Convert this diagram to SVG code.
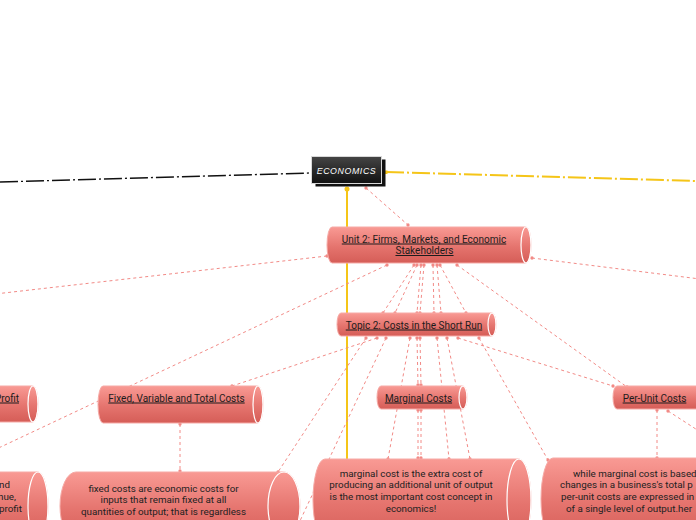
<svg xmlns="http://www.w3.org/2000/svg" width="696" height="520" viewBox="0 0 696 520">
<defs>
<linearGradient id="cyl" x1="0" y1="0" x2="0" y2="1">
<stop offset="0" stop-color="#f99a94"/>
<stop offset="0.55" stop-color="#e5746e"/>
<stop offset="1" stop-color="#d55d57"/>
</linearGradient>
<linearGradient id="dark" x1="0" y1="0" x2="0" y2="1">
<stop offset="0" stop-color="#454545"/>
<stop offset="1" stop-color="#111111"/>
</linearGradient>
<marker id="dot" viewBox="0 0 6 6" refX="3" refY="3" markerWidth="4" markerHeight="4" markerUnits="userSpaceOnUse">
<circle cx="3" cy="3" r="2.5" fill="#f28a86"/>
</marker>
<marker id="ydot" viewBox="0 0 6 6" refX="3" refY="3" markerWidth="6" markerHeight="6" markerUnits="userSpaceOnUse">
<circle cx="3" cy="3" r="2.5" fill="#f5c518"/>
</marker>
</defs>
<style>
.c{fill:none;stroke:#f28a86;stroke-width:1;stroke-dasharray:3,3;marker-start:url(#dot);marker-end:url(#dot)}
.body{fill:url(#cyl);stroke:#f6aaa6;stroke-width:1}
.cap{fill:none;stroke:#ffffff;stroke-width:1.2}
.t{font-family:Roboto,"Liberation Sans",sans-serif;font-size:10px;fill:#1c1c1c;text-anchor:middle;text-decoration:underline}
.b{font-family:Roboto,"Liberation Sans",sans-serif;font-size:9.8px;fill:#222;text-anchor:middle}
</style>

<g id="connectors">
<line x1="0" y1="182" x2="310" y2="173" stroke="#111" stroke-width="1.4" stroke-dasharray="18,3,2,3"/>
<line x1="386" y1="172" x2="696" y2="181" stroke="#f5c518" stroke-width="2" stroke-dasharray="18,3,2,3"/>
<rect x="384" y="170.5" width="3.5" height="3.5" fill="#f5c518"/>
<line x1="347" y1="189" x2="347" y2="530" stroke="#f5c518" stroke-width="2" marker-start="url(#ydot)"/>
<line class="c" x1="366" y1="188" x2="408" y2="225"/>
<line class="c" x1="327" y1="256" x2="-5" y2="294"/>
<line class="c" x1="532" y1="258" x2="700" y2="279"/>
<line class="c" x1="387" y1="265" x2="-10" y2="452"/>
<line class="c" x1="414" y1="265" x2="383" y2="313"/>
<line class="c" x1="417" y1="265" x2="395" y2="313"/>
<line class="c" x1="421" y1="265" x2="417" y2="313"/>
<line class="c" x1="424" y1="265" x2="420" y2="313"/>
<line class="c" x1="433" y1="265" x2="434" y2="313"/>
<line class="c" x1="437" y1="265" x2="441" y2="313"/>
<line class="c" x1="440" y1="265" x2="466" y2="313"/>
<line class="c" x1="457" y1="265" x2="627" y2="387"/>
<line class="c" x1="377" y1="338" x2="232" y2="386"/>
<line class="c" x1="366" y1="338" x2="278" y2="472"/>
<line class="c" x1="386" y1="338" x2="291" y2="540"/>
<line class="c" x1="410" y1="338" x2="388" y2="459"/>
<line class="c" x1="417" y1="338" x2="418" y2="385"/>
<line class="c" x1="420" y1="338" x2="421" y2="385"/>
<line class="c" x1="437" y1="338" x2="449" y2="459"/>
<line class="c" x1="447" y1="338" x2="470" y2="459"/>
<line class="c" x1="458" y1="338" x2="613" y2="386"/>
<line class="c" x1="479" y1="338" x2="548" y2="460"/>
<line class="c" x1="418" y1="410" x2="418" y2="458"/>
<line class="c" x1="421" y1="410" x2="421" y2="458"/>
<line class="c" x1="657" y1="410" x2="657" y2="458"/>
<line class="c" x1="668" y1="411" x2="702" y2="433"/>
<line class="c" x1="180" y1="424" x2="180" y2="471"/>
</g>

<g id="economics">
<rect x="315.5" y="159.5" width="70" height="27" fill="#111"/>
<rect x="311.5" y="156.5" width="70" height="27" fill="url(#dark)" stroke="#d8d8d8" stroke-width="1"/>
<text x="346.5" y="173.5" font-family="'Liberation Sans',sans-serif" font-size="8.8" font-style="italic" letter-spacing="0.6" fill="#ffffff" text-anchor="middle">ECONOMICS</text>
</g>

<g id="unit2">
<path class="body" d="M332,227 H526 A5,18 0 0 1 526,263 H332 A5,18 0 0 1 332,227 Z"/>
<ellipse class="cap" cx="526" cy="245" rx="5" ry="18"/>
<text class="t" x="424" y="242.5">Unit 2: Firms, Markets, and Economic</text>
<text class="t" x="424.5" y="254">Stakeholders</text>
</g>

<g id="topic2">
<path class="body" d="M341,313 H492 A4,11.5 0 0 1 492,336 H341 A4,11.5 0 0 1 341,313 Z"/>
<ellipse class="cap" cx="492" cy="324.5" rx="4" ry="11.5"/>
<text class="t" x="414" y="328.5">Topic 2: Costs in the Short Run</text>
</g>

<g id="profit">
<path class="body" d="M-95,386 H33 A5,18 0 0 1 33,422 H-95 A5,18 0 0 1 -95,386 Z"/>
<ellipse class="cap" cx="33" cy="404" rx="5" ry="18"/>
<text class="t" x="19" y="401.5" style="text-anchor:end">Profit</text>
</g>

<g id="fixedvar">
<path class="body" d="M103,386 H258 A5,18.5 0 0 1 258,423 H103 A5,18.5 0 0 1 103,386 Z"/>
<ellipse class="cap" cx="258" cy="404.5" rx="5" ry="18.5"/>
<text class="t" x="176.5" y="401.5">Fixed, Variable and Total Costs</text>
</g>

<g id="marginal">
<path class="body" d="M381,386 H463 A4,11.5 0 0 1 463,409 H381 A4,11.5 0 0 1 381,386 Z"/>
<ellipse class="cap" cx="463" cy="397.5" rx="4" ry="11.5"/>
<text class="t" x="418.5" y="401.5">Marginal Costs</text>
</g>

<g id="perunit">
<path class="body" d="M617,386 H706 A4,11.5 0 0 1 706,409 H617 A4,11.5 0 0 1 617,386 Z"/>
<text class="t" x="654.5" y="401.5">Per-Unit Costs</text>
</g>

<g id="profit-text">
<path class="body" d="M-190,472 H38 A10,34 0 0 1 38,540 H-190 A10,34 0 0 1 -190,472 Z"/>
<ellipse class="cap" cx="38" cy="506" rx="10" ry="34"/>
<text class="b" x="10" y="487.5" style="text-anchor:end">nd</text>
<text class="b" x="16" y="500" style="text-anchor:end">nue,</text>
<text class="b" x="22" y="512" style="text-anchor:end">profit</text>
</g>

<g id="fixed-text">
<path class="body" d="M76,472 H284 A16,34 0 0 1 284,540 H76 A16,34 0 0 1 76,472 Z"/>
<ellipse class="cap" cx="284" cy="506" rx="16" ry="34"/>
<text class="b" x="163.5" y="491.5">fixed costs are economic costs for</text>
<text class="b" x="163.5" y="503">inputs that remain fixed at all</text>
<text class="b" x="163.5" y="515">quantities of output; that is regardless</text>
</g>

<g id="marginal-text">
<path class="body" d="M325,459 H519 A12,41 0 0 1 519,541 H325 A12,41 0 0 1 325,459 Z"/>
<ellipse class="cap" cx="519" cy="500" rx="12" ry="41"/>
<text class="b" x="411" y="476.5">marginal cost is the extra cost of</text>
<text class="b" x="411" y="488">producing an additional unit of output</text>
<text class="b" x="411" y="500">is the most important cost concept in</text>
<text class="b" x="411" y="512">economics!</text>
</g>

<g id="perunit-text">
<path class="body" d="M553,458 H748 A12,41 0 0 1 748,540 H553 A12,41 0 0 1 553,458 Z"/>
<text class="b" x="573" y="476.5" style="text-anchor:start">while marginal cost is based</text>
<text class="b" x="560" y="488" style="text-anchor:start">changes in a business's total p</text>
<text class="b" x="561" y="500" style="text-anchor:start">per-unit costs are expressed in</text>
<text class="b" x="566" y="511.5" style="text-anchor:start">of a single level of output.her</text>
</g>
</svg>
